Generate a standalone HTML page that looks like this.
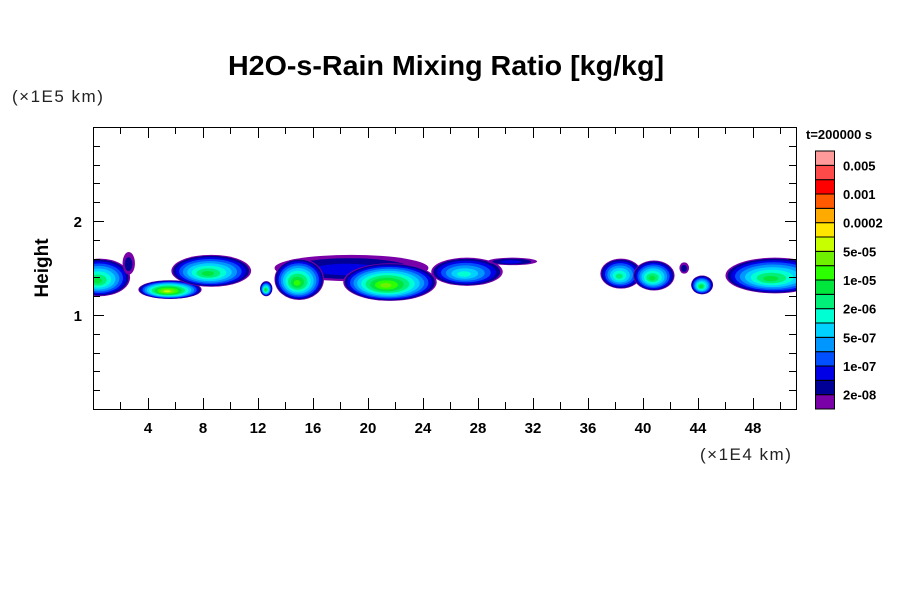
<!DOCTYPE html>
<html><head><meta charset="utf-8"><style>
html,body{margin:0;padding:0;background:#fff;}
svg{display:block;font-family:"Liberation Sans",sans-serif;}
</style></head><body>
<svg id="chart" width="900" height="600" viewBox="0 0 900 600">
<defs><clipPath id="pc"><rect x="93" y="127" width="703" height="282"/></clipPath></defs>
<text x="446" y="75" text-anchor="middle" font-size="28" font-weight="bold" textLength="436" lengthAdjust="spacingAndGlyphs">H2O-s-Rain Mixing Ratio [kg/kg]</text>
<text x="12" y="102" font-size="17" letter-spacing="1.5" fill="#222">(×1E5 km)</text>
<text x="700" y="460" font-size="17" letter-spacing="1.5" fill="#222">(×1E4 km)</text>
<text transform="translate(48,268) rotate(-90)" text-anchor="middle" font-size="19" font-weight="bold">Height</text>
<text x="806" y="139" font-size="13" font-weight="bold">t=200000 s</text>
<g id="clouds" clip-path="url(#pc)"></g>
<rect x="93.5" y="127.5" width="703" height="282" fill="none" stroke="#000" stroke-width="1"/>
<g id="axes"></g>
<g id="cbar"></g>
</svg>
<script>
const colors=["#7a00a8","#000096","#0000e6","#0050ff","#0096ff","#00d2ff","#00ffd2","#00f07a","#00e63c","#2cff00","#6ef000","#c8ff00","#ffe600","#ffaa00","#ff5a00","#ff0000","#ff4a4a","#ff9a9a"];
const cbarLabels=["0.005","0.001","0.0002","5e-05","1e-05","2e-06","5e-07","1e-07","2e-08"];
const xTicks=[4,8,12,16,20,24,28,32,36,40,44,48];
const yTicks=[1,2];
const cloudX=[0.5,2.6,18.8,5.6,8.6,12.6,15,21.6,27.2,30.5,38.4,40.8,43,44.3,49.6];
const cloudY=[1.4,1.55,1.5,1.27,1.47,1.28,1.38,1.35,1.46,1.57,1.44,1.42,1.5,1.32,1.42];
const cloudW=[2.2,0.45,5.6,2.3,2.9,0.45,1.8,3.4,2.6,1.8,1.5,1.5,0.35,0.8,3.6];
const cloudH=[0.2,0.12,0.14,0.1,0.17,0.08,0.22,0.2,0.15,0.04,0.16,0.16,0.06,0.1,0.19];
const cloudPeak=[8,1,2,11,8,8,9,10,6,2,7,8,1,8,8];
const NS="http://www.w3.org/2000/svg";
const X0=93,X1=796,Y0=409,Y1=127,XMAX=51.13,YMAX=3.0;
function sx(v){return X0+v/XMAX*(X1-X0);}
function sy(v){return Y0-v/YMAX*(Y0-Y1);}
function mk(t,a,p){const e=document.createElementNS(NS,t);for(const k in a)e.setAttribute(k,a[k]);p.appendChild(e);return e;}
const cg=document.getElementById('clouds');
for(let c=0;c<cloudX.length;c++){
  const pk=cloudPeak[c];
  for(let i=0;i<=pk;i++){
    const f=1-Math.pow(i/(pk+1),1.4);
    const e=mk('ellipse',{cx:sx(cloudX[c]-(1-f)*cloudW[c]*0.1),cy:sy(cloudY[c]-(1-f)*cloudH[c]*0.2),rx:(sx(cloudW[c])-X0)*f,ry:(Y0-sy(cloudH[c]))*f,fill:colors[i]},cg);
    
    
  }
}
const ax=document.getElementById('axes');
for(let v=2;v<XMAX;v+=2){
  const x=Math.round(sx(v))+0.5,len=(v%4===0)?11:7;
  mk('line',{x1:x,x2:x,y1:Y0,y2:Y0-len,stroke:'#000'},ax);
  mk('line',{x1:x,x2:x,y1:Y1,y2:Y1+len,stroke:'#000'},ax);
}
for(let k=1;k<15;k++){
  const v=k*0.2,y=Math.round(sy(v))+0.5,len=(k%5===0)?11:7;
  mk('line',{x1:X0,x2:X0+len,y1:y,y2:y,stroke:'#000'},ax);
  mk('line',{x1:X1,x2:X1-len,y1:y,y2:y,stroke:'#000'},ax);
}
xTicks.forEach(v=>{const t=mk('text',{x:sx(v),y:433,'text-anchor':'middle','font-size':15,'font-weight':'bold'},ax);t.textContent=v;

});
yTicks.forEach(v=>{const t=mk('text',{x:82,y:sy(v)+6,'text-anchor':'end','font-size':15,'font-weight':'bold'},ax);t.textContent=v;

});
const cb=document.getElementById('cbar');
const CB0=151,CBH=258/18;
for(let i=0;i<18;i++){
  const r=mk('rect',{x:815.5,y:CB0+(17-i)*CBH,width:19,height:CBH,fill:colors[i],stroke:'#000','stroke-width':1},cb);
  
  
}
cbarLabels.forEach((l,j)=>{const t=mk('text',{x:843,y:CB0+(1+2*j)*CBH+5,'font-size':13,'font-weight':'bold'},cb);t.textContent=l;

});
</script>
</body></html>
